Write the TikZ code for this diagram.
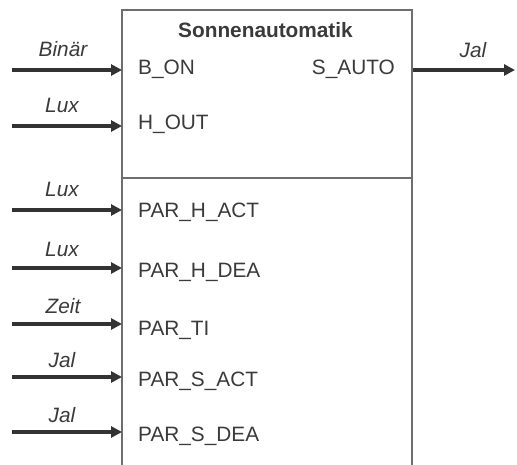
\documentclass[tikz,border=0pt]{standalone}
\usepackage{fontspec}
\setmainfont{Liberation Sans}
\usetikzlibrary{arrows.meta}
\definecolor{boxline}{HTML}{6E6E6E}
\definecolor{sigline}{HTML}{333333}
\definecolor{txt}{HTML}{3A3A3A}
\newcommand\labelsize{\fontsize{20.8}{25}\selectfont}
\tikzset{
  boxedge/.style={draw=boxline, line width=2pt},
  sig/.style={draw=sigline, line width=4pt, -{Triangle[length=11pt,width=11pt]}},
  port/.style={anchor=base west, inner sep=0pt, text=txt, font=\labelsize},
  portr/.style={anchor=base east, inner sep=0pt, text=txt, font=\labelsize},
  sigtype/.style={anchor=base, inner sep=0pt, text=txt, font=\labelsize\itshape},
  title/.style={anchor=base, inner sep=0pt, text=txt, font=\labelsize\bfseries}
}
\begin{document}
\begin{tikzpicture}[x=1pt,y=-1pt]
\useasboundingbox (0,0) rectangle (517,465);

% block outline, open at the bottom
\coordinate (bl) at (122,466);
\coordinate (tl) at (122,10);
\coordinate (tr) at (412,10);
\coordinate (br) at (412,466);
\coordinate (dl) at (122,178);
\coordinate (dr) at (412,178);
\draw[boxedge] (bl) -- (tl) -- (tr) -- (br);
\draw[boxedge] (dl) -- (dr);

\node[title] (fb) at (265.5,38) {Sonnenautomatik};

% inputs
\node[port] (pB)  at (138,75)  {B\_ON};
\node[port] (pH)  at (138,130) {H\_OUT};
\node[port] (pHA) at (138,218) {PAR\_H\_ACT};
\node[port] (pHD) at (138,277) {PAR\_H\_DEA};
\node[port] (pT)  at (138,335) {PAR\_TI};
\node[port] (pSA) at (138,386) {PAR\_S\_ACT};
\node[port] (pSD) at (138,441) {PAR\_S\_DEA};

% output
\node[portr] (pS) at (395,75) {S\_AUTO};

% signal ends
\coordinate (sB)  at (12,70);   \coordinate (eB)  at (122,70);
\coordinate (sH)  at (12,126);  \coordinate (eH)  at (122,126);
\coordinate (sHA) at (12,210);  \coordinate (eHA) at (122,210);
\coordinate (sHD) at (12,268);  \coordinate (eHD) at (122,268);
\coordinate (sT)  at (12,324);  \coordinate (eT)  at (122,324);
\coordinate (sSA) at (12,377);  \coordinate (eSA) at (122,377);
\coordinate (sSD) at (12,432);  \coordinate (eSD) at (122,432);
\coordinate (sO)  at (413,70);  \coordinate (eO)  at (515,70);

\draw[sig] (sB)  -- (eB);
\draw[sig] (sH)  -- (eH);
\draw[sig] (sHA) -- (eHA);
\draw[sig] (sHD) -- (eHD);
\draw[sig] (sT)  -- (eT);
\draw[sig] (sSA) -- (eSA);
\draw[sig] (sSD) -- (eSD);
\draw[sig] (sO)  -- (eO);

% data types
\node[sigtype] (tB)  at (63,57)  {Binär};
\node[sigtype] (tH)  at (62,113) {Lux};
\node[sigtype] (tHA) at (62,197) {Lux};
\node[sigtype] (tHD) at (62,257) {Lux};
\node[sigtype] (tT)  at (63,313) {Zeit};
\node[sigtype] (tSA) at (62,367) {Jal};
\node[sigtype] (tSD) at (62,422) {Jal};
\node[sigtype] (tO)  at (473,58) {Jal};
\end{tikzpicture}
\end{document}
